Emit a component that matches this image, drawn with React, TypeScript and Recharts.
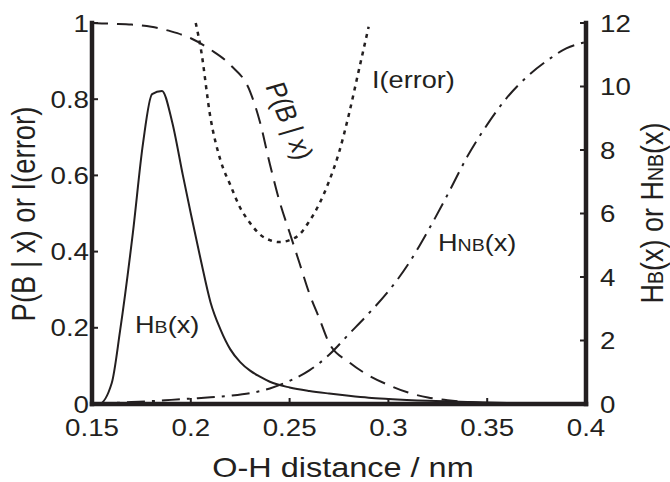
import { Line, LineChart, XAxis, YAxis } from "recharts";

const INK = "#231f20";
const FONT = '"Liberation Sans", Arial, Helvetica, sans-serif';
// the source figure is stretched sideways, so all text is widened a bit
const SX = 1.18;

const xTicks = [0.15, 0.2, 0.25, 0.3, 0.35, 0.4];
const leftTicks = [0, 0.2, 0.4, 0.6, 0.8, 1];
const rightTicks = [0, 2, 4, 6, 8, 10, 12];

// H_B(x), right axis
const hbX = [0.15, 0.1535, 0.16, 0.1642, 0.1707, 0.1758, 0.1804, 0.1854, 0.1905, 0.196, 0.2, 0.205, 0.21, 0.215, 0.22, 0.225, 0.23, 0.235, 0.24, 0.25, 0.26, 0.27, 0.28, 0.29, 0.3, 0.32, 0.34, 0.36, 0.38, 0.4];
const hbY = [0, 0, 0.66, 2.3, 5.4, 8.2, 9.76, 9.86, 8.9, 7.2, 6.0, 4.55, 3.2, 2.35, 1.72, 1.32, 1.05, 0.86, 0.7, 0.52, 0.41, 0.33, 0.26, 0.2, 0.16, 0.1, 0.06, 0.03, 0.01, 0];

// H_NB(x), right axis
const nbX = [0.15, 0.16, 0.17, 0.18, 0.19, 0.2, 0.21, 0.22, 0.23, 0.24, 0.25, 0.26, 0.27, 0.28, 0.29, 0.3, 0.31, 0.32, 0.33, 0.34, 0.35, 0.36, 0.37, 0.38, 0.39, 0.4];
const nbY = [0, 0.03, 0.06, 0.09, 0.13, 0.17, 0.21, 0.26, 0.34, 0.49, 0.73, 1.06, 1.55, 2.2, 2.85, 3.55, 4.4, 5.45, 6.6, 7.8, 8.8, 9.65, 10.3, 10.8, 11.2, 11.4];

// P(B | x), left axis
const pbX = [0.15, 0.16, 0.17, 0.18, 0.19, 0.2, 0.21, 0.22, 0.23, 0.235, 0.24, 0.245, 0.25, 0.255, 0.26, 0.265, 0.27, 0.28, 0.29, 0.3, 0.31, 0.32, 0.33, 0.34, 0.35, 0.36, 0.38, 0.4];
const pbY = [1, 0.998, 0.996, 0.99, 0.978, 0.96, 0.93, 0.89, 0.82, 0.74, 0.63, 0.53, 0.45, 0.37, 0.29, 0.225, 0.16, 0.11, 0.075, 0.05, 0.03, 0.017, 0.01, 0.005, 0.002, 0, 0, 0];

// I(error), left axis
const ieX = [0.2025, 0.205, 0.21, 0.215, 0.22, 0.225, 0.23, 0.235, 0.24, 0.245, 0.25, 0.255, 0.26, 0.265, 0.27, 0.275, 0.28, 0.285, 0.29];
const ieY = [1, 0.935, 0.75, 0.64, 0.575, 0.515, 0.475, 0.445, 0.43, 0.425, 0.43, 0.445, 0.48, 0.525, 0.585, 0.66, 0.76, 0.875, 0.99];

const toPoints = (xs: number[], ys: number[]) => xs.map((x, i) => ({ x, y: ys[i] }));

const hbData = toPoints(hbX, hbY);
const nbData = toPoints(nbX, nbY);
const pbData = toPoints(pbX, pbY);
const ieData = toPoints(ieX, ieY);

function StretchText({ x, y, size, anchor = "start", rotate = 0, children }: any) {
  return (
    <text
      transform={`translate(${x},${y}) scale(${SX},1) rotate(${rotate})`}
      textAnchor={anchor}
      fontSize={size}
      fontFamily={FONT}
      fill={INK}>
      {children}
    </text>
  );
}

const Sub = ({ children }: any) => <tspan fontSize="0.72em">{children}</tspan>;

const TICK_FONT = 23.5;

const BottomTick = ({ x, y, payload }: any) => (
  <StretchText x={x} y={y + 38} size={TICK_FONT} anchor="middle">
    {String(payload.value)}
  </StretchText>
);

const LeftTick = ({ x, y, payload }: any) => (
  <StretchText x={x - 9} y={y + 8.5} size={TICK_FONT} anchor="end">
    {String(payload.value)}
  </StretchText>
);

const RightTick = ({ x, y, payload }: any) => (
  <StretchText x={x + 20} y={y + 8.5} size={TICK_FONT}>
    {String(payload.value)}
  </StretchText>
);

const AXIS_LINE = { stroke: INK, strokeWidth: 4.5, strokeLinecap: "square" as const };
const TICK_LINE = { stroke: INK, strokeWidth: 2 };

export default function App() {
  return (
    <div style={{ position: "absolute", left: 0, top: 0, width: 670, height: 482, background: "#fff" }}>
      <LineChart width={670} height={482} margin={{ top: 23, right: 24, bottom: 38, left: 32 }}>
        <XAxis
          xAxisId="bottom"
          dataKey="x"
          type="number"
          domain={[0.15, 0.4]}
          ticks={xTicks}
          allowDataOverflow
          height={40}
          tickSize={-6}
          tickMargin={0}
          axisLine={AXIS_LINE}
          tickLine={TICK_LINE}
          tick={<BottomTick />}
        />
        <XAxis
          xAxisId="top"
          orientation="top"
          dataKey="x"
          type="number"
          domain={[0.15, 0.4]}
          ticks={xTicks}
          allowDataOverflow
          height={0}
          tickSize={-6}
          axisLine={AXIS_LINE}
          tickLine={TICK_LINE}
          tick={false}
        />
        <YAxis
          yAxisId="left"
          type="number"
          domain={[0, 1]}
          ticks={leftTicks}
          width={60}
          tickSize={-6}
          tickMargin={0}
          axisLine={AXIS_LINE}
          tickLine={TICK_LINE}
          tick={<LeftTick />}
        />
        <YAxis
          yAxisId="right"
          orientation="right"
          type="number"
          domain={[0, 12]}
          ticks={rightTicks}
          width={60}
          tickSize={-6}
          tickMargin={0}
          axisLine={AXIS_LINE}
          tickLine={TICK_LINE}
          tick={<RightTick />}
        />
        <Line
          data={hbData}
          xAxisId="bottom"
          yAxisId="right"
          dataKey="y"
          type="monotone"
          stroke={INK}
          strokeWidth={2}
          dot={false}
          isAnimationActive={false}
        />
        <Line
          data={nbData}
          xAxisId="bottom"
          yAxisId="right"
          dataKey="y"
          type="monotone"
          stroke={INK}
          strokeWidth={2}
          strokeDasharray="18 7 3 7"
          dot={false}
          isAnimationActive={false}
        />
        <Line
          data={pbData}
          xAxisId="bottom"
          yAxisId="left"
          dataKey="y"
          type="monotone"
          stroke={INK}
          strokeWidth={2}
          strokeDasharray="16 9"
          dot={false}
          isAnimationActive={false}
        />
        <Line
          data={ieData}
          xAxisId="bottom"
          yAxisId="left"
          dataKey="y"
          type="monotone"
          stroke={INK}
          strokeWidth={2.5}
          strokeDasharray="4 5"
          dot={false}
          isAnimationActive={false}
        />
      </LineChart>
      <svg
        width={670}
        height={482}
        style={{ position: "absolute", left: 0, top: 0, pointerEvents: "none" }}>
        <StretchText x={343} y={477} size={27.5} anchor="middle">
          O-H distance / nm
        </StretchText>
        <StretchText x={35} y={214} size={27.5} anchor="middle" rotate={-90}>
          P(B | x) or I(error)
        </StretchText>
        <StretchText x={663} y={213} size={27} anchor="middle" rotate={-90}>
          H<Sub>B</Sub>(x) or H<Sub>NB</Sub>(x)
        </StretchText>
        <StretchText x={135} y={333} size={23}>
          H<Sub>B</Sub>(x)
        </StretchText>
        <StretchText x={438} y={251} size={23}>
          H<Sub>NB</Sub>(x)
        </StretchText>
        <StretchText x={372} y={88} size={23}>
          I(error)
        </StretchText>
        <StretchText x={265} y={86} size={24} rotate={71}>
          P(B | x)
        </StretchText>
      </svg>
    </div>
  );
}
